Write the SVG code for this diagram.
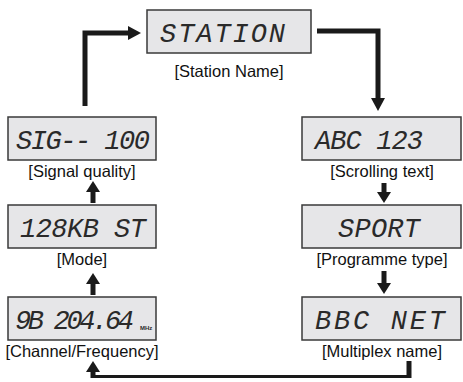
<svg xmlns="http://www.w3.org/2000/svg" width="463" height="382" viewBox="0 0 463 382">
<style>
.box{fill:#e6e6e8;stroke:#3a3a3a;stroke-width:1.5}
.lcd{font-family:"Liberation Mono","DejaVu Sans Mono",monospace;font-style:italic;font-size:27px;fill:#2a2a2a}
.lbl{font-family:"Liberation Sans",Arial,sans-serif;font-size:16.5px;fill:#111;text-anchor:middle}
.con{fill:none;stroke:#1a1a1a;stroke-width:5}
.thin{fill:none;stroke:#1a1a1a;stroke-width:3}
.head{fill:#1a1a1a}
.mhz{font-family:"Liberation Sans",Arial,sans-serif;font-size:6px;font-weight:bold;fill:#2a2a2a}
</style>
<g id="connectors">
<path class="con" d="M85,106 V33 H129"/>
<polygon class="head" points="128,26 141,33 128,40"/>
<path class="con" d="M317,31 H378 V99"/>
<polygon class="head" points="371,98 385,98 378,111"/>
<path class="con" d="M384,183 V193"/>
<polygon class="head" points="377,192 391,192 384,203"/>
<path class="con" d="M384,271 V284"/>
<polygon class="head" points="377,283 391,283 384,294"/>
<path class="con" d="M93,203 V191"/>
<polygon class="head" points="86,192 100,192 93,181"/>
<path class="con" d="M93,295 V283"/>
<polygon class="head" points="86,284 100,284 93,273"/>
<path class="con" d="M409,361 V378"/>
<path class="thin" d="M411,376.5 H93"/>
<path class="con" d="M93,378 V371"/>
<polygon class="head" points="86,372 100,372 93,361"/>
</g>
<g id="station">
<rect class="box" x="147" y="10" width="164" height="43"/>
<text class="lcd" x="160" y="42" textLength="125" lengthAdjust="spacing">STATION</text>
<text class="lbl" x="229" y="77">[Station Name]</text>
</g>
<g id="signal">
<rect class="box" x="8" y="117" width="148" height="43"/>
<text class="lcd" x="16" y="149" textLength="134" lengthAdjust="spacing">SIG-- 100</text>
<text class="lbl" x="82" y="177">[Signal quality]</text>
</g>
<g id="mode">
<rect class="box" x="8" y="205" width="148" height="43"/>
<text class="lcd" x="20" y="237" textLength="126" lengthAdjust="spacing">128KB ST</text>
<text class="lbl" x="82" y="265">[Mode]</text>
</g>
<g id="channel">
<rect class="box" x="8" y="297" width="148" height="43"/>
<text class="lcd" x="15" y="329" textLength="119" lengthAdjust="spacing">9B 204.64</text>
<text class="mhz" x="140" y="330">MHz</text>
<text class="lbl" x="82" y="357">[Channel/Frequency]</text>
</g>
<g id="scrolling">
<rect class="box" x="302" y="117" width="159" height="43"/>
<text class="lcd" x="315" y="149" textLength="108" lengthAdjust="spacing">ABC 123</text>
<text class="lbl" x="382" y="177">[Scrolling text]</text>
</g>
<g id="programme">
<rect class="box" x="302" y="205" width="159" height="43"/>
<text class="lcd" x="338" y="237" textLength="82" lengthAdjust="spacing">SPORT</text>
<text class="lbl" x="382" y="265">[Programme type]</text>
</g>
<g id="multiplex">
<rect class="box" x="302" y="297" width="159" height="43"/>
<text class="lcd" x="315" y="329" textLength="130" lengthAdjust="spacing">BBC NET</text>
<text class="lbl" x="382" y="357">[Multiplex name]</text>
</g>
</svg>
